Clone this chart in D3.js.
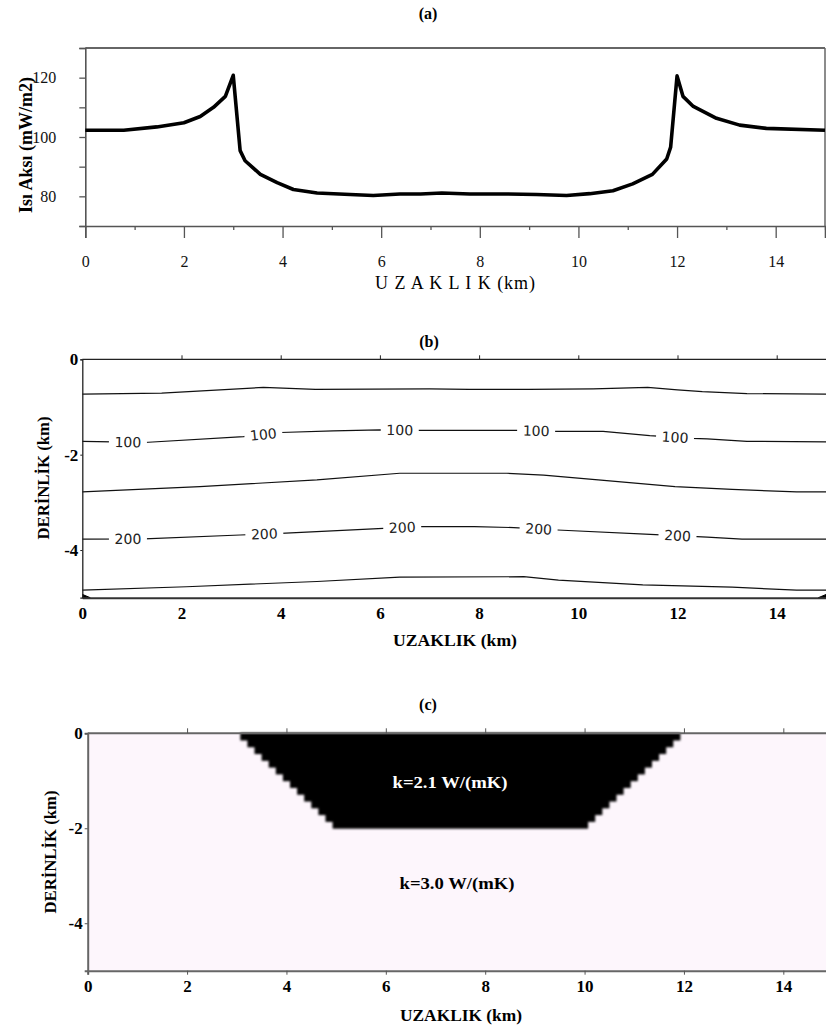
<!DOCTYPE html>
<html><head><meta charset="utf-8">
<script src="https://cdn.jsdelivr.net/npm/d3@7"></script>
<style>
body{margin:0;background:#fff;}
svg{display:block;}
text{font-family:"Liberation Serif","Times New Roman",serif;}
text.iso{font-family:"DejaVu Sans",sans-serif;}
</style></head>
<body>
<script>
// ---------- Panel (a): surface heat flow ----------
const heatX = [0, 0.78, 1.45, 2.0, 2.33, 2.6, 2.84, 3.0, 3.14, 3.24, 3.55, 3.89, 4.22, 4.7, 5.37, 5.84, 6.38, 6.8, 7.23, 7.8, 8.5, 9.15, 9.76, 10.23, 10.7, 11.1, 11.5, 11.79, 11.87, 12.0, 12.12, 12.33, 12.8, 13.27, 13.81, 15];
const heatQ = [102.3, 102.3, 103.4, 104.8, 106.9, 110, 113.7, 120.8, 95.4, 92, 87.4, 84.6, 82.3, 81.1, 80.6, 80.3, 80.8, 80.8, 81.1, 80.8, 80.8, 80.6, 80.3, 80.9, 81.9, 84.2, 87.4, 92.6, 96.6, 120.6, 113.7, 110.3, 106.3, 104, 102.9, 102.3];
const heatYTicks = [70, 80, 90, 100, 110, 120, 130];
const heatYLabels = [80, 100, 120];
const distMajorTicks = [0, 2, 4, 6, 8, 10, 12, 14];
const distMinorTicks = [1, 3, 5, 7, 9, 11, 13, 15];
const depthTicks = [0, -2, -4];

// ---------- Panel (b): isotherms (°C) ----------
const iso50X  = [0, 1.6, 3.65, 4.7, 7, 7.8, 9, 10.3, 11.4, 12, 12.5, 13.4, 15];
const iso50Z  = [-0.73, -0.71, -0.59, -0.63, -0.62, -0.63, -0.63, -0.62, -0.59, -0.64, -0.68, -0.72, -0.73];
const iso100X = [0, 0.6, 1.25, 3.25, 4.0, 5.06, 6.0, 6.75, 8.76, 9.5, 10.5, 11.44, 12.3, 12.6, 13.4, 15];
const iso100Z = [-1.72, -1.73, -1.745, -1.62, -1.535, -1.50, -1.48, -1.49, -1.49, -1.51, -1.51, -1.60, -1.66, -1.67, -1.72, -1.73];
const iso150X = [0, 2.37, 4.73, 6.4, 8.56, 9.3, 10.4, 11.95, 13.1, 14.4, 15];
const iso150Z = [-2.78, -2.67, -2.53, -2.39, -2.39, -2.43, -2.53, -2.67, -2.73, -2.78, -2.78];
const iso200X = [0, 1.25, 3.18, 4.0, 6.07, 6.8, 7.9, 8.7, 9.58, 11.45, 12.6, 13.3, 15];
const iso200Z = [-3.77, -3.765, -3.685, -3.65, -3.545, -3.51, -3.51, -3.53, -3.58, -3.67, -3.73, -3.77, -3.77];
const iso250X = [0, 2.1, 4.73, 6.4, 8.9, 9.6, 11.3, 13.1, 14.4, 15];
const iso250Z = [-4.84, -4.77, -4.66, -4.57, -4.56, -4.63, -4.73, -4.78, -4.84, -4.84];
const cornerLeftX = [0, 0.16, 0];
const cornerLeftZ = [-4.93, -5.0, -5.0];
const cornerRightX = [15, 14.84, 15];
const cornerRightZ = [-4.93, -5.0, -5.0];
const label100X = [0.92, 3.65, 6.4, 9.15, 11.95];
const label200X = [0.92, 3.67, 6.45, 9.2, 12.0];

// ---------- Panel (c): conductivity model ----------
const basinX = [3, 5, 10, 12];
const basinZ = [0, -2, -2, 0];
const kBasin = "k=2.1 W/(mK)";
const kHost = "k=3.0 W/(mK)";
const gridStep = 2 / 14; // model cell size (km)

const svg = d3.select("body").append("svg").attr("width", 826).attr("height", 1030);
svg.append("rect").attr("width", 826).attr("height", 1030).attr("fill", "#fff");

function fmt(d){ return String(d); }
const SERIF = "Liberation Serif";

// ================= PANEL A =================
const xA = d3.scaleLinear().domain([0, 15]).range([85.3, 825]);
const yA = d3.scaleLinear().domain([70, 130]).range([226, 48]);
const gA = svg.append("g");
const axisCol = "#555";
gA.append("line").attr("x1", xA(0)).attr("x2", xA(15)).attr("y1", yA(130)).attr("y2", yA(130)).attr("stroke", "#666").attr("stroke-width", 2);
gA.append("line").attr("x1", xA(15)).attr("x2", xA(15)).attr("y1", yA(130)).attr("y2", yA(70)).attr("stroke", "#666").attr("stroke-width", 1.5);
const ayA = gA.append("g").attr("transform", `translate(${xA(0)},0)`)
  .call(d3.axisLeft(yA).tickValues(heatYTicks).tickSize(6).tickPadding(23)
    .tickFormat(d => heatYLabels.includes(d) ? fmt(d) : ""));
const axBmaj = gA.append("g").attr("transform", `translate(0,${yA(70)})`)
  .call(d3.axisBottom(xA).tickValues(distMajorTicks).tickSize(12).tickPadding(18).tickFormat(fmt));
const axBmin = gA.append("g").attr("transform", `translate(0,${yA(70)})`)
  .call(d3.axisBottom(xA).tickValues(distMinorTicks).tickSize(4).tickFormat(""));
[ayA, axBmaj, axBmin].forEach(g => {
  g.attr("font-family", SERIF).attr("font-size", 16);
  g.select(".domain").attr("stroke", axisCol).attr("stroke-width", 1.6);
  g.selectAll(".tick line").attr("stroke", axisCol).attr("stroke-width", 1.3);
  g.selectAll("text").attr("font-size", 16).attr("fill", "#111");
});
axBmin.select(".domain").remove();
gA.append("path").datum(heatX.map((x, i) => [x, heatQ[i]]))
  .attr("d", d3.line().x(d => xA(d[0])).y(d => yA(d[1])))
  .attr("fill", "none").attr("stroke", "#000").attr("stroke-width", 3.6).attr("stroke-linejoin", "round");
svg.append("text").attr("x", 428).attr("y", 19).attr("text-anchor", "middle")
  .attr("font-size", 16).attr("font-weight", "bold").text("(a)");
svg.append("text").attr("x", 455).attr("y", 289).attr("text-anchor", "middle")
  .attr("font-size", 18).attr("textLength", 160).attr("lengthAdjust", "spacing").text("U Z A K L I K (km)");
svg.append("text").attr("transform", "translate(32,145) rotate(-90)").attr("text-anchor", "middle")
  .attr("font-size", 18).attr("font-weight", "bold").attr("textLength", 136).attr("lengthAdjust", "spacingAndGlyphs").text("Isı Aksı (mW/m2)");

// ================= PANEL B =================
const xB = d3.scaleLinear().domain([0, 15]).range([82.3, 826.3]);
const yB = d3.scaleLinear().domain([-5, 0]).range([597.7, 359.3]);
const gB = svg.append("g");
const isoLine = d3.line().x(d => xB(d[0])).y(d => yB(d[1]));
const isos = [[iso50X, iso50Z], [iso100X, iso100Z], [iso150X, iso150Z], [iso200X, iso200Z], [iso250X, iso250Z]];
isos.forEach(([X, Z]) => {
  gB.append("path").datum(X.map((x, i) => [x, Z[i]])).attr("d", isoLine)
    .attr("fill", "none").attr("stroke", "#111").attr("stroke-width", 1.2);
});
[[cornerLeftX, cornerLeftZ], [cornerRightX, cornerRightZ]].forEach(([X, Z]) => {
  gB.append("path").datum(X.map((x, i) => [x, Z[i]]))
    .attr("d", isoLine).attr("fill", "#000").attr("stroke", "#000").attr("stroke-width", 1);
});
function addLabels(X, Z, labelX, txt) {
  const interp = d3.scaleLinear().domain(X).range(Z);
  labelX.forEach(lx => {
    const px = xB(lx), py = yB(interp(lx));
    const dx = xB(lx + 0.3) - xB(lx - 0.3), dy = yB(interp(lx + 0.3)) - yB(interp(lx - 0.3));
    const ang = Math.atan2(dy, dx) * 180 / Math.PI;
    const g = gB.append("g").attr("transform", `translate(${px},${py}) rotate(${ang})`);
    g.append("rect").attr("x", -19).attr("y", -6).attr("width", 38).attr("height", 12).attr("fill", "#fff");
    g.append("text").attr("class", "iso").attr("text-anchor", "middle").attr("dy", "0.36em")
      .attr("font-size", 14).attr("fill", "#222").text(txt);
  });
}
addLabels(iso100X, iso100Z, label100X, "100");
addLabels(iso200X, iso200Z, label200X, "200");
const topB = gB.append("g").attr("transform", `translate(0,${yB(0)})`)
  .call(d3.axisTop(xB).tickValues(distMajorTicks.filter(d => d > 0)).tickSize(4).tickFormat(""));
topB.select(".domain").attr("d", `M${xB(0)},0H${xB(15)}`);
const botB = gB.append("g").attr("transform", `translate(0,${yB(-5)})`)
  .call(d3.axisBottom(xB).tickValues(distMajorTicks).tickSize(0).tickPadding(9).tickFormat(fmt));
const leftB = gB.append("g").attr("transform", `translate(${xB(0)},0)`)
  .call(d3.axisLeft(yB).tickValues(depthTicks).tickSize(2).tickPadding(2).tickFormat(fmt));
[topB, botB, leftB].forEach(g => {
  g.attr("font-family", SERIF);
  g.select(".domain").attr("stroke", "#222").attr("stroke-width", 1.3);
  g.selectAll(".tick line").attr("stroke", "#222");
  g.selectAll("text").attr("font-weight", "bold").attr("font-size", 17).attr("fill", "#000");
});
botB.select(".domain").attr("stroke-width", 2).attr("stroke", "#333");
svg.append("text").attr("x", 429).attr("y", 347).attr("text-anchor", "middle")
  .attr("font-size", 16).attr("font-weight", "bold").text("(b)");
svg.append("text").attr("x", 455).attr("y", 646).attr("text-anchor", "middle")
  .attr("font-size", 17).attr("font-weight", "bold").attr("textLength", 124).attr("lengthAdjust", "spacingAndGlyphs").text("UZAKLIK (km)");
svg.append("text").attr("transform", "translate(49,478) rotate(-90)").attr("text-anchor", "middle")
  .attr("font-size", 17).attr("font-weight", "bold").attr("textLength", 123).attr("lengthAdjust", "spacingAndGlyphs").text("DERİNLİK (km)");

// ================= PANEL C =================
const xC = d3.scaleLinear().domain([0, 15]).range([87.7, 833]);
const yC = d3.scaleLinear().domain([-5, 0]).range([970.7, 733.3]);
const gC = svg.append("g");
gC.append("defs").append("filter").attr("id", "soft").append("feGaussianBlur").attr("stdDeviation", 0.8);
gC.append("rect").attr("x", xC(0)).attr("y", yC(0)).attr("width", xC(15) - xC(0)).attr("height", yC(-5) - yC(0)).attr("fill", "#fdf6fc");
// rasterise the basin polygon on the model grid: one run of cells per row
const leftSide = d3.scaleLinear().domain([basinZ[0], basinZ[1]]).range([basinX[0], basinX[1]]);
const rightSide = d3.scaleLinear().domain([basinZ[3], basinZ[2]]).range([basinX[3], basinX[2]]);
const nRows = Math.round((basinZ[0] - basinZ[1]) / gridStep);
const rows = d3.range(nRows).map(j => {
  const zTop = -j * gridStep;
  const zMid = -(j + 0.5) * gridStep;
  return {zTop, zBot: zTop - gridStep, xl: leftSide(zMid), xr: rightSide(zMid)};
});
gC.append("g").attr("filter", "url(#soft)").selectAll("rect").data(rows).join("rect")
  .attr("x", d => xC(d.xl)).attr("y", d => yC(d.zTop) - 0.4)
  .attr("width", d => xC(d.xr) - xC(d.xl)).attr("height", d => yC(d.zBot) - yC(d.zTop) + 0.8)
  .attr("fill", "#000");
const topC = gC.append("g").attr("transform", `translate(0,${yC(0)})`)
  .call(d3.axisTop(xC).tickValues(distMajorTicks.filter(d => d > 0)).tickSize(5).tickFormat(""));
topC.select(".domain").attr("d", `M${xC(0)},0H${xC(15)}`);
const botC = gC.append("g").attr("transform", `translate(0,${yC(-5)})`)
  .call(d3.axisBottom(xC).tickValues(distMajorTicks).tickSize(4).tickPadding(5).tickFormat(fmt));
const leftC = gC.append("g").attr("transform", `translate(${xC(0)},0)`)
  .call(d3.axisLeft(yC).tickValues(depthTicks).tickSize(3).tickPadding(2).tickFormat(fmt));
[topC, botC, leftC].forEach(g => {
  g.attr("font-family", SERIF);
  g.select(".domain").attr("stroke", "#666").attr("stroke-width", 2);
  g.selectAll(".tick line").attr("stroke", "#555");
  g.selectAll("text").attr("font-weight", "bold").attr("font-size", 17).attr("fill", "#000");
});
svg.append("text").attr("x", 450).attr("y", 788).attr("text-anchor", "middle").attr("fill", "#fff")
  .attr("font-size", 17).attr("font-weight", "bold").attr("textLength", 115).attr("lengthAdjust", "spacingAndGlyphs").text(kBasin);
svg.append("text").attr("x", 457).attr("y", 889).attr("text-anchor", "middle").attr("fill", "#000")
  .attr("font-size", 17).attr("font-weight", "bold").attr("textLength", 115).attr("lengthAdjust", "spacingAndGlyphs").text(kHost);
svg.append("text").attr("x", 428).attr("y", 710).attr("text-anchor", "middle")
  .attr("font-size", 16).attr("font-weight", "bold").text("(c)");
svg.append("text").attr("x", 461).attr("y", 1021).attr("text-anchor", "middle")
  .attr("font-size", 17).attr("font-weight", "bold").attr("textLength", 122).attr("lengthAdjust", "spacingAndGlyphs").text("UZAKLIK (km)");
svg.append("text").attr("transform", "translate(56,852) rotate(-90)").attr("text-anchor", "middle")
  .attr("font-size", 17).attr("font-weight", "bold").attr("textLength", 123).attr("lengthAdjust", "spacingAndGlyphs").text("DERİNLİK (km)");
</script>
</body></html>
